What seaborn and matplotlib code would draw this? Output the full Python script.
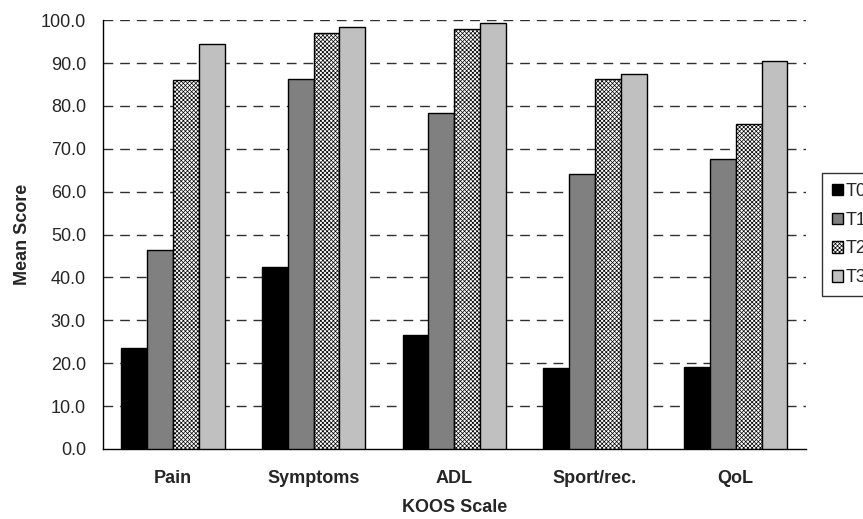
import matplotlib
matplotlib.use("Agg")
import matplotlib.pyplot as plt
from matplotlib.ticker import FormatStrFormatter, FixedLocator
import seaborn as sns
import pandas as pd

scales = ["Pain", "Symptoms", "ADL", "Sport/rec.", "QoL"]
times = ["T0", "T1", "T2", "T3"]
t0 = [23.6, 42.5, 26.6, 18.9, 19.2]
t1 = [46.3, 86.2, 78.4, 64.2, 67.6]
t2 = [86.1, 97.0, 98.0, 86.2, 75.7]
t3 = [94.4, 98.3, 99.4, 87.5, 90.5]

rows = []
for t, vals in zip(times, [t0, t1, t2, t3]):
    for s, v in zip(scales, vals):
        rows.append({"KOOS Scale": s, "Mean Score": v, "Time": t})
df = pd.DataFrame(rows)

sns.set_theme(style="white")
plt.rcParams["font.family"] = ["Liberation Sans", "DejaVu Sans"]
plt.rcParams["hatch.linewidth"] = 0.5

fig = plt.figure(figsize=(8.63, 5.19), dpi=100)
ax = fig.add_axes([0.1189, 0.1349, 0.8151, 0.8262])

palette = {"T0": "#000000", "T1": "#808080", "T2": "#ffffff", "T3": "#c0c0c0"}
sns.barplot(data=df, x="KOOS Scale", y="Mean Score", hue="Time",
            order=scales, hue_order=times, palette=palette,
            width=0.735, edgecolor="black", linewidth=1.0,
            saturation=1, ax=ax, zorder=3)

# fine textured fill for T2
T2_HATCH = "xxxxxxxx"
for patch in ax.containers[2]:
    patch.set_hatch(T2_HATCH)

ax.set_ylim(0, 100)
ax.set_xlim(-0.5, len(scales) - 0.5)
ax.set_yticks(range(0, 101, 10))
ax.yaxis.set_major_formatter(FormatStrFormatter("%.1f"))
for y in range(10, 101, 10):
    ax.axhline(y, color="#303030", linestyle=(0, (7, 5)), linewidth=1.0, zorder=1)

ax.xaxis.set_minor_locator(FixedLocator([i - 0.5 for i in range(len(scales) + 1)]))
ax.tick_params(axis="x", which="major", length=0, pad=15, labelsize=13)
ax.tick_params(axis="x", which="minor", length=5, width=1, color="black", direction="out")
ax.tick_params(axis="y", length=6, width=1, color="black", direction="out",
               labelsize=13, pad=6)
for lab in ax.get_xticklabels():
    lab.set_fontweight("bold")

for side in ["top", "right"]:
    ax.spines[side].set_visible(False)
for side in ["left", "bottom"]:
    ax.spines[side].set_color("black")
    ax.spines[side].set_linewidth(1.0)

ax.set_xlabel("KOOS Scale", fontsize=13, fontweight="bold", labelpad=9)
ax.set_ylabel("Mean Score", fontsize=13, fontweight="bold", labelpad=7)

handles, labels = ax.get_legend_handles_labels()
ax.legend_.remove()
leg = fig.legend(handles, labels, loc="upper left",
                 bbox_to_anchor=(822 / 863, 1 - 173 / 519),
                 frameon=True, fancybox=False, shadow=False,
                 fontsize=13, handlelength=0.6, handleheight=0.6,
                 handletextpad=0.15, labelspacing=0.65, borderpad=0.55,
                 borderaxespad=0)
leg.get_frame().set_edgecolor("black")
leg.get_frame().set_linewidth(1.0)
leg.legend_handles[2].set_hatch(T2_HATCH)

fig.savefig("out.png", dpi=100)
